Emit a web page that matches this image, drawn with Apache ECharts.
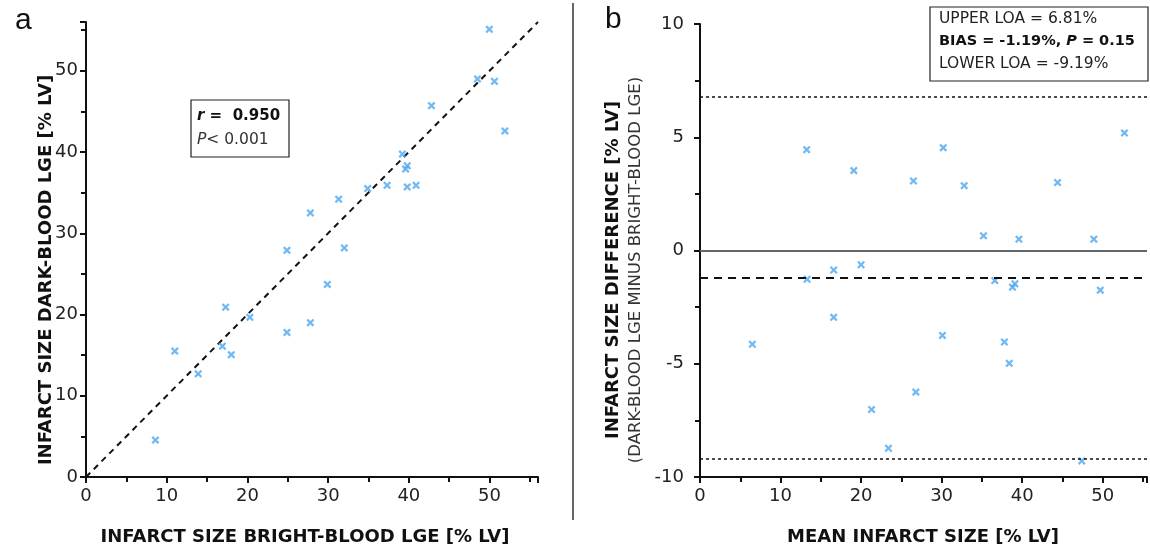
<!DOCTYPE html>
<html>
<head>
<meta charset="utf-8">
<title>Infarct size</title>
<script src="https://cdn.jsdelivr.net/npm/echarts@6/dist/echarts.min.js"></script>
<style>
	html, body { margin: 0; padding: 0; background: #fff; }
	#chart { width: 1150px; height: 550px; }
</style>
</head>
<body>
<div id="chart"></div>
<script>
/************************************** 数据 ********************************************/
// a: bright-blood vs dark-blood infarct size (% LV)
var brightBlood = [49.97, 48.5, 50.6, 42.8, 51.9, 39.2, 39.8, 39.6, 34.9, 37.3, 39.8, 40.9, 31.3, 27.8, 24.9, 32.0,
	29.9, 17.3, 20.3, 27.8, 24.9, 11.0, 16.9, 18.0, 13.9, 8.6];
var darkBlood = [55.1, 49.0, 48.7, 45.7, 42.6, 39.75, 38.3, 37.9, 35.5, 35.9, 35.7, 35.9, 34.2, 32.5, 27.9, 28.2,
	23.7, 20.9, 19.65, 19.0, 17.8, 15.5, 16.1, 15.05, 12.7, 4.55];
var identityLine = [0, 56];

// b: Bland-Altman mean vs difference
var meanSize = [13.25, 19.1, 26.5, 30.2, 32.8, 35.2, 39.6, 44.4, 48.9, 52.7, 13.3, 16.6, 20.0, 36.6, 38.8, 39.1,
	49.7, 16.6, 6.5, 30.1, 37.8, 38.4, 26.8, 21.3, 23.4, 47.4];
var sizeDiff = [4.45, 3.53, 3.07, 4.54, 2.86, 0.65, 0.5, 3.0, 0.5, 5.19, -1.27, -0.86, -0.63, -1.33, -1.62, -1.47,
	-1.75, -2.95, -4.14, -3.75, -4.04, -4.98, -6.25, -7.02, -8.73, -9.29];
var upperLoa = 6.81;
var bias = -1.19;
var lowerLoa = -9.19;
var zeroLine = 0;
/************************************** 数据 ********************************************/

var fontName = '"DejaVu Sans", "Open Sans", sans-serif';
var markerColor = '#4ea7ef';
var crossPath = 'path://M2,0 L5,3 L8,0 L10,2 L7,5 L10,8 L8,10 L5,7 L2,10 L0,8 L3,5 L0,2 Z';

function zipPoints(xs, ys) {
	var out = [];
	for (var i = 0; i < xs.length; i++) {
		out.push([xs[i], ys[i]]);
	}
	return out;
}

//公共坐标轴样式
function axisStyle(min, max, gridIndex, isY) {
	var step = isY && gridIndex == 1 ? 5 : 10;
	var labelMargin = 10;
	if (isY) labelMargin = gridIndex == 1 ? 16 : 8;
	return {
		type: 'value',
		gridIndex: gridIndex,
		min: min,
		max: max,
		interval: step,
		axisLine: { show: true, onZero: false, lineStyle: { color: '#111', width: 2 } },
		axisTick: { show: true, inside: false, length: 6, lineStyle: { color: '#111', width: 2 } },
		minorTick: { show: true, splitNumber: 2, length: 5, lineStyle: { color: '#111', width: 2 } },
		splitLine: { show: false },
		axisLabel: {
			fontFamily: fontName,
			fontSize: 18,
			color: '#222',
			margin: labelMargin,
			formatter: function (v) {
				return v % step == 0 ? String(v) : '';
			}
		}
	};
}

var chart = echarts.init(document.getElementById('chart'));

var option = {
	backgroundColor: '#fff',
	animation: false,
	grid: [
		{ left: 86, right: 612, top: 22, bottom: 73 },
		{ left: 700, right: 3, top: 24, bottom: 73 }
	],
	xAxis: [
		axisStyle(0, 56, 0, false),
		axisStyle(0, 55.5, 1, false)
	],
	yAxis: [
		axisStyle(0, 56, 0, true),
		axisStyle(-10, 10, 1, true)
	],
	series: [
		{
			type: 'line',
			xAxisIndex: 0,
			yAxisIndex: 0,
			data: zipPoints(identityLine, identityLine),
			symbol: 'none',
			lineStyle: { color: '#111', width: 2, type: [6, 5] },
			z: 1
		},
		{
			type: 'scatter',
			xAxisIndex: 0,
			yAxisIndex: 0,
			data: zipPoints(brightBlood, darkBlood),
			symbol: crossPath,
			symbolSize: 8,
			itemStyle: { color: markerColor },
			z: 3
		},
		{
			type: 'scatter',
			xAxisIndex: 1,
			yAxisIndex: 1,
			data: zipPoints(meanSize, sizeDiff),
			symbol: crossPath,
			symbolSize: 8,
			itemStyle: { color: markerColor },
			z: 3,
			markLine: {
				silent: true,
				symbol: 'none',
				label: { show: false },
				data: [
					{ yAxis: zeroLine, lineStyle: { color: '#666', width: 2, type: 'solid' } },
					{ yAxis: bias, lineStyle: { color: '#111', width: 2, type: [8, 6] } },
					{ yAxis: upperLoa, lineStyle: { color: '#111', width: 1.5, type: [3, 3] } },
					{ yAxis: lowerLoa, lineStyle: { color: '#111', width: 1.5, type: [3, 3] } }
				]
			}
		}
	],
	graphic: [
		//分隔线
		{ type: 'line', shape: { x1: 573, y1: 3, x2: 573, y2: 520 }, style: { stroke: '#333', lineWidth: 1.5 } },
		//面板标签
		{ type: 'text', left: 15, top: 6, style: { text: 'a', fontSize: 30, fontFamily: '"Liberation Sans", Arial, sans-serif', fill: '#111' } },
		{ type: 'text', left: 605, top: 5, style: { text: 'b', fontSize: 30, fontFamily: '"Liberation Sans", Arial, sans-serif', fill: '#111' } },
		//坐标轴名称
		{ type: 'text', x: 305, y: 537, style: { text: 'INFARCT SIZE BRIGHT-BLOOD LGE [% LV]', fontSize: 18, fontWeight: 'bold', fontFamily: fontName, fill: '#111', align: 'center', verticalAlign: 'middle' } },
		{ type: 'text', x: 46, y: 270, rotation: Math.PI / 2, style: { text: 'INFARCT SIZE DARK-BLOOD LGE [% LV]', fontSize: 18, fontWeight: 'bold', fontFamily: fontName, fill: '#111', align: 'center', verticalAlign: 'middle' } },
		{ type: 'text', x: 923, y: 537, style: { text: 'MEAN INFARCT SIZE [% LV]', fontSize: 18, fontWeight: 'bold', fontFamily: fontName, fill: '#111', align: 'center', verticalAlign: 'middle' } },
		{ type: 'text', x: 613, y: 270, rotation: Math.PI / 2, style: { text: 'INFARCT SIZE DIFFERENCE [% LV]', fontSize: 18, fontWeight: 'bold', fontFamily: fontName, fill: '#111', align: 'center', verticalAlign: 'middle' } },
		{ type: 'text', x: 636, y: 270, rotation: Math.PI / 2, style: { text: '(DARK-BLOOD LGE MINUS BRIGHT-BLOOD LGE)', fontSize: 16.5, fontFamily: fontName, fill: '#333', align: 'center', verticalAlign: 'middle' } },
		//相关系数框
		{ type: 'rect', shape: { x: 191, y: 100, width: 98, height: 57 }, style: { fill: '#fff', stroke: '#222', lineWidth: 1.2 }, z: 10 },
		{
			type: 'text', left: 197, top: 109, z: 11,
			style: {
				text: '{ri|r}{b| =  0.950}\n{pi|P}{n|< 0.001}',
				fontFamily: fontName,
				rich: {
					ri: { fontSize: 15, fontWeight: 'bold', fontStyle: 'italic', fill: '#111', fontFamily: fontName, lineHeight: 23 },
					b: { fontSize: 15, fontWeight: 'bold', fill: '#111', fontFamily: fontName, lineHeight: 23 },
					pi: { fontSize: 15.5, fontStyle: 'italic', fill: '#333', fontFamily: fontName, lineHeight: 23 },
					n: { fontSize: 15.5, fill: '#333', fontFamily: fontName, lineHeight: 23 }
				}
			}
		},
		//一致性界限框
		{ type: 'rect', shape: { x: 930, y: 7, width: 218, height: 74 }, style: { fill: '#fff', stroke: '#222', lineWidth: 1.2 }, z: 10 },
		{
			type: 'text', left: 939, top: 11, z: 11,
			style: {
				text: '{n|UPPER LOA = 6.81%}\n{b|BIAS = -1.19%, }{bi|P}{b| = 0.15}\n{n|LOWER LOA = -9.19%}',
				fontFamily: fontName,
				rich: {
					n: { fontSize: 15.5, fill: '#222', fontFamily: fontName, lineHeight: 22.5 },
					b: { fontSize: 14.5, fontWeight: 'bold', fill: '#111', fontFamily: fontName, lineHeight: 22.5 },
					bi: { fontSize: 14.5, fontWeight: 'bold', fontStyle: 'italic', fill: '#111', fontFamily: fontName, lineHeight: 22.5 }
				}
			}
		}
	]
};

chart.setOption(option);
</script>
</body>
</html>
